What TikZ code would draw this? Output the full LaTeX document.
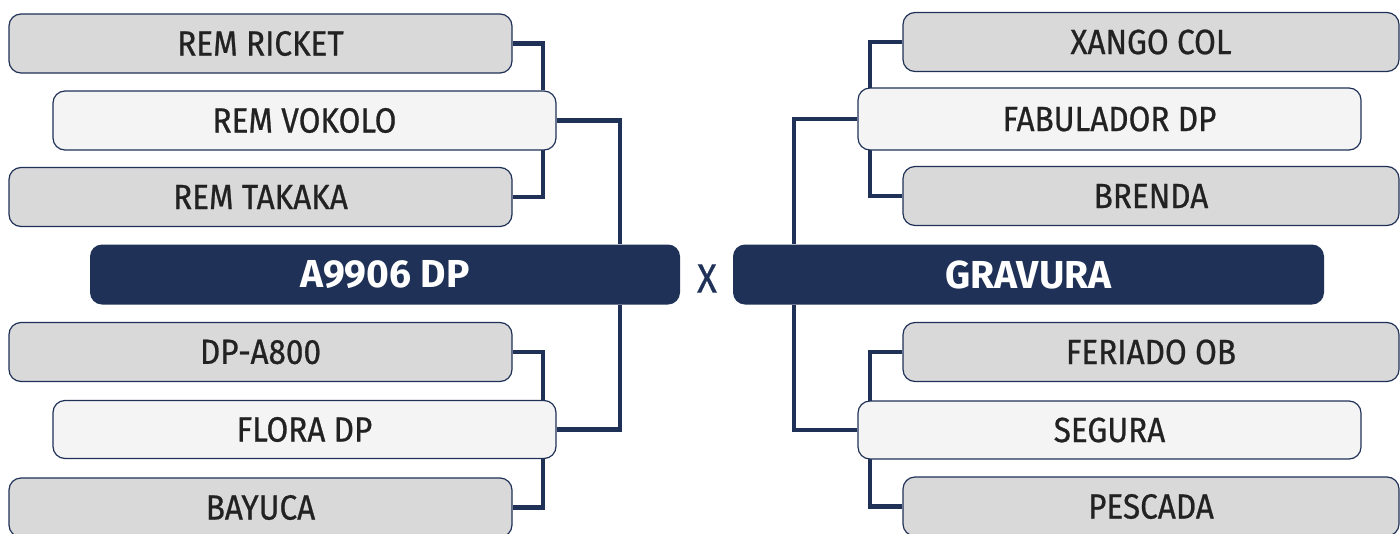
\documentclass[tikz,border=0pt]{standalone}
\usepackage{fontspec}
\setmainfont[FakeStretch=0.9,FakeBold=0.7]{Fira Sans}
\newfontfamily\titlefont{Fira Sans}
\newfontfamily\xfont[FakeStretch=0.9,FakeBold=0.5]{Fira Sans}
\definecolor{navy}{HTML}{1F3157}
\definecolor{boxgray}{HTML}{D9D9D9}
\definecolor{boxwhite}{HTML}{F4F4F4}
\definecolor{txt}{HTML}{222222}
\tikzset{
  team/.style={draw=navy, line width=1.2pt, rounded corners=12pt, minimum height=59pt,
    text=txt, font=\fontsize{35}{35}\selectfont, inner sep=0pt},
  grayteam/.style={team, fill=boxgray},
  whiteteam/.style={team, fill=boxwhite},
  final/.style={fill=navy, rounded corners=12pt, minimum height=60pt, text=white,
    font=\titlefont\bfseries\fontsize{39}{39}\selectfont, inner sep=0pt},
  link/.style={draw=navy, line width=4.5pt}
}
\begin{document}
\begin{tikzpicture}[x=1pt,y=-1pt]
\useasboundingbox (0,0) rectangle (1400,533);
% junction columns
\coordinate (jl1) at (543,0);
\coordinate (jl2) at (620,0);
\coordinate (jr1) at (870,0);
\coordinate (jr2) at (794,0);
% left side
\node[grayteam, minimum width=503pt] (rr) at (260.5,43.5) {REM RICKET};
\node[grayteam, minimum width=503pt] (rt) at (260.5,197) {REM TAKAKA};
\node[grayteam, minimum width=503pt] (dp) at (260.5,352) {DP-A800};
\node[grayteam, minimum width=503pt] (ba) at (260.5,507.5) {BAYUCA};
\node[final, minimum width=590pt] (A) at (385,274.5) {A9906 DP};
% right side
\node[grayteam, minimum width=496pt] (xc) at (1151,42) {XANGO COL};
\node[grayteam, minimum width=496pt] (br) at (1151,196) {BRENDA};
\node[grayteam, minimum width=496pt] (fe) at (1151,352) {FERIADO OB};
\node[grayteam, minimum width=496pt] (pe) at (1151,506.5) {PESCADA};
\node[final, minimum width=591pt] (G) at (1028.5,274.5) {GRAVURA};
% connectors
\draw[link] (rr.east) -| (jl1 |- 0,90);
\draw[link] (rt.east) -| (jl1 |- 0,150);
\draw[link] (dp.east) -| (jl1 |- 0,401);
\draw[link] (ba.east) -| (jl1 |- 0,458);
\draw[link] (xc.west) -| (jr1 |- 0,88);
\draw[link] (br.west) -| (jr1 |- 0,150);
\draw[link] (fe.west) -| (jr1 |- 0,401);
\draw[link] (pe.west) -| (jr1 |- 0,459);
% middle boxes on top
\node[whiteteam, minimum width=503pt] (vk) at (304.5,120.5) {REM VOKOLO};
\node[whiteteam, minimum width=503pt, minimum height=58pt] (fl) at (304.5,429.5) {FLORA DP};
\node[whiteteam, minimum width=503pt, minimum height=62pt] (fa) at (1109.5,119) {FABULADOR DP};
\node[whiteteam, minimum width=503pt, minimum height=58pt] (sg) at (1109.5,430) {SEGURA};
\draw[link] (vk.east) -| (A.north -| jl2);
\draw[link] (fl.east) -| (A.south -| jl2);
\draw[link] (fa.west) -| (G.north -| jr2);
\draw[link] (sg.west) -| (G.south -| jr2);
\node[text=navy, font=\xfont\fontsize{41}{41}\selectfont, inner sep=0pt] (x) at (707,278.5) {X};
\end{tikzpicture}
\end{document}
